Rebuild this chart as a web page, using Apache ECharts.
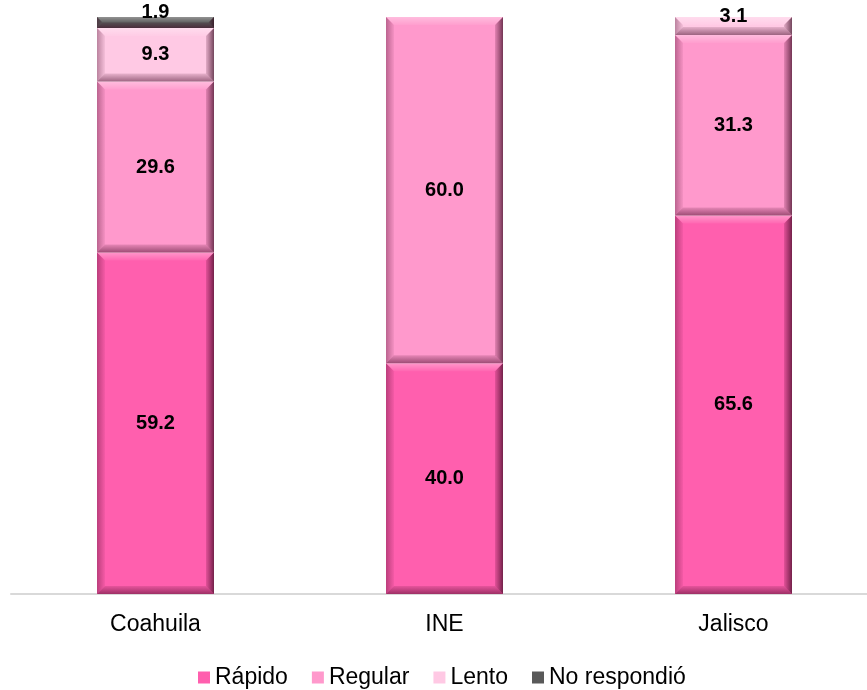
<!DOCTYPE html>
<html>
<head>
<meta charset="utf-8">
<script src="https://cdn.jsdelivr.net/npm/echarts@6/dist/echarts.min.js"></script>
<style>html,body{margin:0;padding:0;background:#fff;}#c{width:867px;height:690px;}</style>
</head>
<body>
<div id="c"></div>
<script>
var categories = ['Coahuila', 'INE', 'Jalisco'];
var seriesNames = ['Rápido', 'Regular', 'Lento', 'No respondió'];
var rapido = [59.2, 40.0, 65.6];
var regular = [29.6, 60.0, 31.3];
var lento = [9.3, null, 3.1];
var noRespondio = [1.9, null, null];

var allValues = [rapido, regular, lento, noRespondio];
var colors = ['#ff5fae', '#ff99cc', '#ffc9e4', '#595959'];
var BAR_W = 117;
var BEVEL = 8;
// label vertical nudges for thin segments: key "series-category"
var labelNudge = {'3-0': -10, '2-2': -9};

// segments for bevel/label overlay built from the data arrays
var segs = [];
for (var c = 0; c < categories.length; c++) {
  var cum = 0;
  for (var s = 0; s < allValues.length; s++) {
    var v = allValues[s][c];
    if (v === null || v === undefined) continue;
    segs.push([c, cum, cum + v, s, v]);
    cum += v;
  }
}

function lg(x, y, x2, y2, c0, c1) {
  return {type: 'linear', x: x, y: y, x2: x2, y2: y2,
    colorStops: [{offset: 0, color: c0}, {offset: 1, color: c1}]};
}

function renderBevel(params, api) {
  var ci = api.value(0), y0 = api.value(1), y1 = api.value(2), s = api.value(3), v = api.value(4);
  var pb = api.coord([ci, y0]);
  var pt = api.coord([ci, y1]);
  var xl = pb[0] - BAR_W / 2, xr = pb[0] + BAR_W / 2;
  var yb = pb[1], yt = pt[1];
  var h = yb - yt;
  var b = Math.min(BEVEL, h / 2, BAR_W / 2);
  var children = [];
  children.push({type: 'polygon', shape: {points: [[xl, yt], [xr, yt], [xr - b, yt + b], [xl + b, yt + b]]},
    style: {fill: lg(0, 0, 0, 1, 'rgba(255,255,255,0.35)', 'rgba(255,255,255,0.05)')}});
  children.push({type: 'polygon', shape: {points: [[xl, yb], [xr, yb], [xr - b, yb - b], [xl + b, yb - b]]},
    style: {fill: lg(0, 0, 0, 1, 'rgba(60,0,30,0.12)', 'rgba(60,0,30,0.5)')}});
  children.push({type: 'polygon', shape: {points: [[xl, yt], [xl + b, yt + b], [xl + b, yb - b], [xl, yb]]},
    style: {fill: lg(0, 0, 1, 0, 'rgba(60,0,30,0.35)', 'rgba(60,0,30,0.05)')}});
  children.push({type: 'polygon', shape: {points: [[xr, yt], [xr - b, yt + b], [xr - b, yb - b], [xr, yb]]},
    style: {fill: lg(0, 0, 1, 0, 'rgba(60,0,30,0.15)', 'rgba(40,0,20,0.65)')}});
  var nudge = labelNudge[s + '-' + ci] || 0;
  children.push({type: 'text', style: {
    text: v.toFixed(1), x: pb[0], y: (yb + yt) / 2 + nudge, align: 'center', verticalAlign: 'middle',
    fill: '#000', font: 'bold 20px "Liberation Sans", Arial, sans-serif'}});
  return {type: 'group', children: children};
}

function mk(name, data, idx) {
  return {
    name: name, type: 'bar', stack: 'total', barWidth: BAR_W,
    data: data,
    itemStyle: {color: colors[idx]},
    label: {show: false}
  };
}

var chart = echarts.init(document.getElementById('c'));
chart.setOption({
  animation: false,
  color: colors,
  grid: {left: 11, right: -11, top: 17, bottom: 96, containLabel: false, outerBoundsMode: 'none'},
  legend: {
    top: 661, left: 193, itemWidth: 12, itemHeight: 12, itemGap: 24,
    icon: 'rect',
    textStyle: {fontFamily: 'Liberation Sans', fontSize: 23, color: '#000'},
    data: seriesNames
  },
  xAxis: {
    type: 'category', data: categories,
    axisLine: {lineStyle: {color: '#d9d9d9', width: 2}},
    axisTick: {show: false},
    axisLabel: {fontFamily: 'Liberation Sans', fontSize: 23, color: '#000', margin: 19}
  },
  yAxis: {type: 'value', min: 0, max: 100, show: false, splitLine: {show: false}},
  series: [
    mk(seriesNames[0], rapido, 0),
    mk(seriesNames[1], regular, 1),
    mk(seriesNames[2], lento, 2),
    mk(seriesNames[3], noRespondio, 3),
    {type: 'custom', name: 'bevel', data: segs, z: 5, silent: true,
     encode: {x: 0, y: 2}, renderItem: renderBevel}
  ]
});
</script>
</body>
</html>
